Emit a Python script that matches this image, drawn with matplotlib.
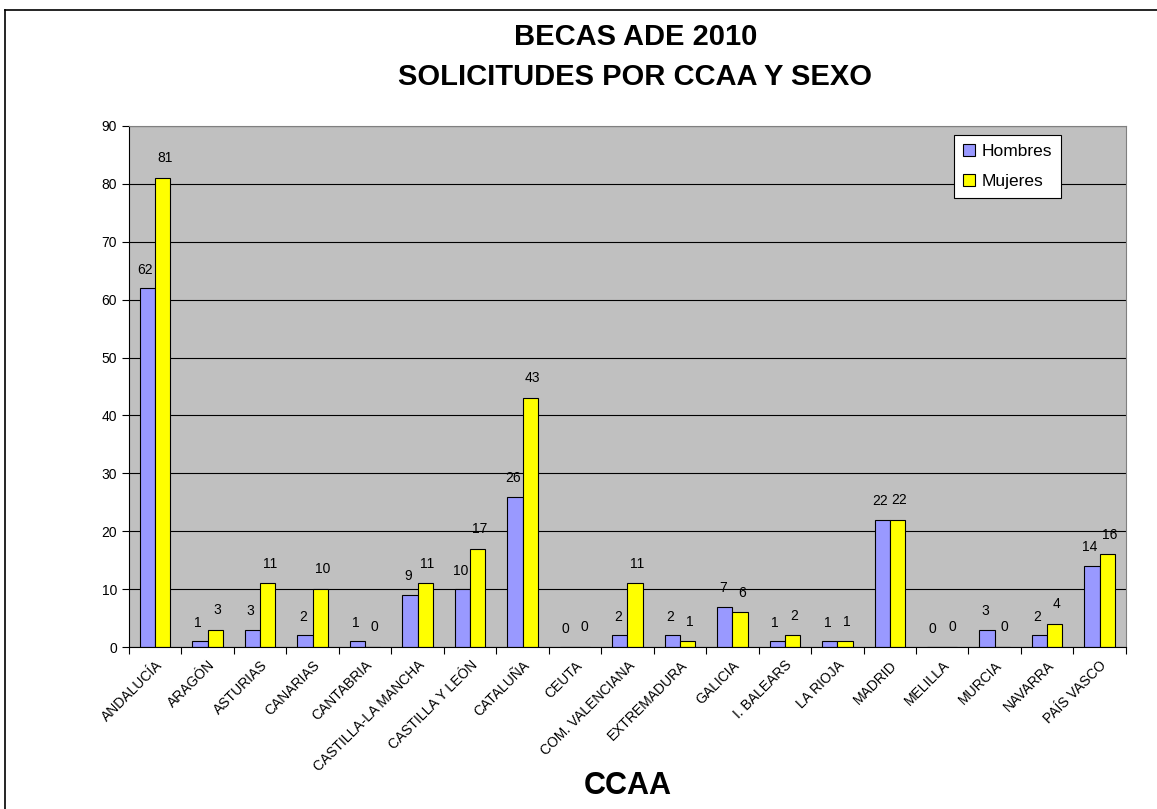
import numpy as np
import matplotlib.pyplot as plt
from matplotlib.lines import Line2D

plt.rcParams['font.family'] = ['Liberation Sans', 'DejaVu Sans']

ccaa = ['ANDALUCÍA', 'ARAGÓN', 'ASTURIAS', 'CANARIAS', 'CANTABRIA',
        'CASTILLA-LA MANCHA', 'CASTILLA Y LEÓN', 'CATALUÑA', 'CEUTA',
        'COM. VALENCIANA', 'EXTREMADURA', 'GALICIA', 'I. BALEARS',
        'LA RIOJA', 'MADRID', 'MELILLA', 'MURCIA', 'NAVARRA', 'PAÍS VASCO']
hombres = [62, 1, 3, 2, 1, 9, 10, 26, 0, 2, 2, 7, 1, 1, 22, 0, 3, 2, 14]
mujeres = [81, 3, 11, 10, 0, 11, 17, 43, 0, 11, 1, 6, 2, 1, 22, 0, 0, 4, 16]

fig = plt.figure(figsize=(11.57, 8.09), dpi=100)
ax = fig.add_axes([0.1115, 0.2002, 0.8616, 0.6441])

# frame of the chart area (only top and left visible)
fig.add_artist(Line2D([5/1157, 5/1157], [0, 1 - 10/809], color='black',
                      lw=1.2, transform=fig.transFigure))
fig.add_artist(Line2D([5/1157, 1], [1 - 10/809, 1 - 10/809], color='black',
                      lw=1.2, transform=fig.transFigure))

x = np.arange(len(ccaa))
w = 0.29
ax.set_facecolor('#C0C0C0')
ax.set_axisbelow(True)
ax.yaxis.grid(True, color='black', lw=0.8)

ax.bar(x - w/2, hombres, w, color='#9999FF', edgecolor='black',
       lw=0.8, label='Hombres')
ax.bar(x + w/2, mujeres, w, color='#FFFF00', edgecolor='black',
       lw=0.8, label='Mujeres')

for xi, v in zip(x, hombres):
    ax.text(xi - w/2 - 0.04, v + 3.2, str(v), ha='center', va='center',
            fontsize=10)
for xi, v in zip(x, mujeres):
    ax.text(xi + w/2 + 0.04, v + 3.4, str(v), ha='center', va='center',
            fontsize=10)

ax.set_xlim(-0.5, len(ccaa) - 0.5)
ax.set_ylim(0, 90)
ax.set_yticks(range(0, 91, 10))
ax.set_xticks(np.arange(len(ccaa) + 1) - 0.5, minor=False)
ax.set_xticklabels([])
ax.set_xticks(x, minor=True)
ax.set_xticklabels(ccaa, minor=True, rotation=45, ha='right',
                   rotation_mode='anchor', fontsize=10)
ax.tick_params(axis='x', which='minor', length=0, pad=8)
ax.tick_params(axis='x', which='major', length=5, direction='out')
ax.tick_params(axis='y', labelsize=10, length=5)

for s in ['top', 'right']:
    ax.spines[s].set_color('#808080')
ax.spines['left'].set_color('black')
ax.spines['bottom'].set_color('black')

ax.set_xlabel('CCAA', fontsize=22, fontweight='bold')
ax.xaxis.label.set_va('center')
ax.xaxis.set_label_coords(0.5, -(786 - 647) / 521)

fig.text(0.549, 1 - 37/809, 'BECAS ADE 2010', ha='center', va='center',
         fontsize=21, fontweight='bold')
fig.text(0.549, 1 - 77/809, 'SOLICITUDES POR CCAA Y SEXO', ha='center',
         va='center', fontsize=21, fontweight='bold')

leg = ax.legend(loc='upper right', bbox_to_anchor=(0.935, 0.983),
                fontsize=12.5, fancybox=False, framealpha=1,
                edgecolor='black', handlelength=0.7, handleheight=0.7,
                labelspacing=0.9, borderpad=0.5, handletextpad=0.4,
                borderaxespad=0)
leg.get_frame().set_linewidth(0.8)

fig.savefig('out.png', dpi=100)
